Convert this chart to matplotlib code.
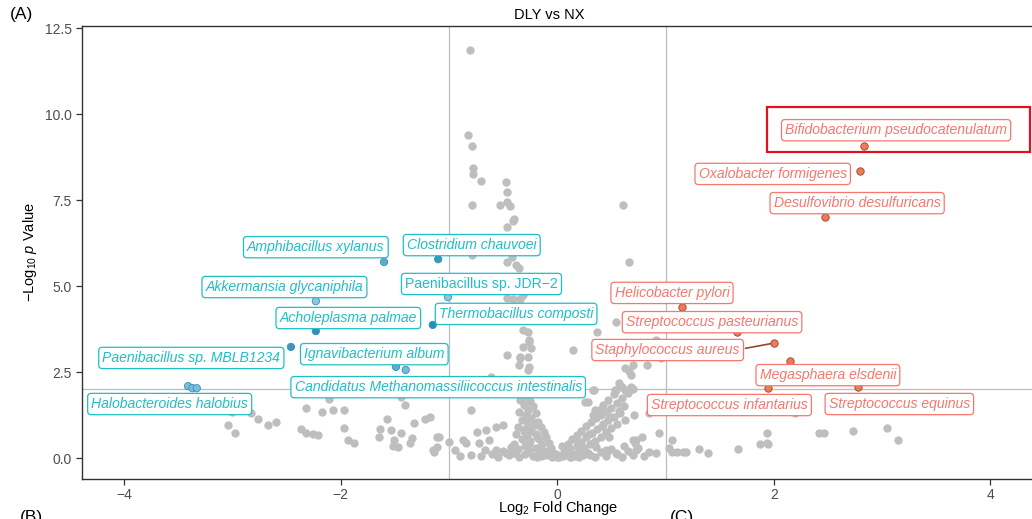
import numpy as np
import matplotlib
matplotlib.use("Agg")
import matplotlib.pyplot as plt
from matplotlib.colors import LinearSegmentedColormap
from matplotlib.patches import Rectangle

plt.rcParams["font.family"] = ["Liberation Sans", "DejaVu Sans"]
plt.rcParams["mathtext.fontset"] = "custom"
plt.rcParams["mathtext.rm"] = "Liberation Sans"
plt.rcParams["mathtext.it"] = "Liberation Sans:italic"

# ---- dados: pontos nao significativos (log2FC, -log10 p)
cinza_x = [-0.81, -0.82, -0.79, -0.78, -0.78, -0.70, -0.47, -0.46, -0.79, -0.53, -0.46, -0.44, 0.61,
           -0.40, -0.41, -0.46, -0.42, -0.79, 0.66, -0.46, -0.38, -0.35,
           -0.46, -0.41, -0.34, -0.32,
           -0.32, -0.27, -0.26, -0.32, -0.24, -0.34, -0.27, -0.35, -0.26, -0.26, -0.46, -0.34, -0.27,
           0.54, 0.37, 0.15,
           0.63, 0.70, 0.83, 0.91, 0.96, 0.66, 0.68, 0.57, 0.60, 0.70, 0.68, 0.53, 0.63,
           -0.61, 0.34, 0.26, -0.30, -0.80, 0.39, 0.63, 0.71, 0.85, 0.94, 1.06,
           0.91, 1.03, 1.11, 1.19, 1.31, 1.39, 1.67, 1.87, 1.94, 1.94, 2.42, 2.46, 2.20, 1.95,
           2.73, 3.05, 3.15, 1.06, 1.16,
           -1.44, -1.41, -1.97, -1.97, -2.32, -2.17, -2.07, -2.11, -3.04, -2.98, -2.83, -2.76,
           -2.67, -2.60, -2.37, -2.32, -2.26, -2.21, -1.93, -1.88, -1.64, -1.65, -1.57, -1.54,
           -1.51, -1.52, -1.47, -1.44, -1.34, -1.36, -1.32, -1.22, -1.18, -1.09, -1.11, -1.14,
           -1.00, -3.00,
           -1.11, -1.15, -0.87, -0.84, -0.94, -0.74, -0.66, -0.57, -0.50, -0.72, -0.63, -0.67,
           -0.57, -0.47, -0.43,
           -0.35, -0.33, -0.30, -0.28, -0.34, -0.25, -0.31, -0.22, -0.27, -0.35, -0.20, -0.30,
           -0.24, -0.33, -0.18, -0.27, -0.21, -0.36, -0.15, -0.30, -0.24, -0.12, -0.38, -0.20,
           -0.28, -0.10, -0.17, -0.33, -0.25, -0.08, -0.40, -0.14, -0.30, -0.20, -0.06, -0.36,
           -0.26, -0.12, -0.04, -0.30, -0.18, -0.08, -0.02, -0.22, 0.00,
           0.05, 0.10, 0.03, 0.15, 0.08, 0.20, 0.12, 0.25, 0.06, 0.18, 0.30, 0.10, 0.22, 0.35,
           0.14, 0.27, 0.40, 0.18, 0.32, 0.45, 0.22, 0.37, 0.50, 0.27, 0.42, 0.55, 0.31, 0.47,
           0.36, 0.52, 0.40, 0.58, 0.45, 0.35, 0.50, 0.62, 0.42, 0.55, 0.47, 0.60, 0.52, 0.65,
           -0.90, -0.80, -0.70, -0.60, -0.55, -0.50, -0.45, -0.40, -0.35, 0.20, 0.30, 0.35,
           0.40, 0.45, 0.50, 0.55, 0.60, 0.65, 0.70, 0.75, 0.80, 0.85, 0.62, 0.72, 0.78,
           0.33, 0.28, 0.33, 0.54, 0.66, 0.70, 0.73, 0.54, 0.46, 0.36, 0.45, 0.73, 0.48, 0.33,
           -0.05, 0.02, -0.15, 0.12, -0.10, 0.08, -0.01, 0.04, 0.16, -0.19, 0.24, 0.28,
           -0.29, -0.23, -0.31, -0.19, -0.26, -0.16, 0.09, 0.19, 0.29, 0.41, 0.49, 0.57,
           -0.11, -0.07, 0.01, 0.06, 0.13, 0.21]
cinza_y = [11.86, 9.38, 9.07, 8.44, 8.25, 8.05, 8.02, 7.74, 7.35, 7.35, 7.45, 7.33, 7.36,
           6.96, 6.90, 6.72, 5.85, 5.90, 5.69, 5.71, 5.61, 5.51,
           4.64, 4.61, 4.61, 4.74,
           3.72, 3.67, 3.43, 3.24, 3.19, 2.95, 2.95, 2.70, 2.65, 3.38, 2.99, 2.90, 2.56,
           3.96, 3.67, 3.14,
           2.61, 2.70, 2.70, 3.43, 2.90, 2.53, 2.41, 2.17, 2.07, 2.00, 2.07, 1.98, 1.98,
           2.36, 1.98, 1.64, 1.59, 1.40, 1.40, 1.10, 1.25, 1.30, 0.74, 0.52,
           0.14, 0.28, 0.18, 0.18, 0.25, 0.15, 0.25, 0.41, 0.43, 0.72, 0.74, 0.74, 1.30, 0.40,
           0.79, 0.86, 0.52, 0.18, 0.18,
           1.78, 1.54, 1.40, 0.86, 1.44, 1.35, 1.40, 1.71, 0.96, 0.72, 1.30, 1.12,
           0.96, 1.06, 0.83, 0.72, 0.69, 0.67, 0.52, 0.43, 0.83, 0.62, 1.12, 0.81,
           0.52, 0.35, 0.33, 0.72, 0.57, 0.43, 1.03, 1.12, 1.18, 0.60, 0.31, 0.18,
           0.47, 1.35,
           0.62, 0.23, 0.52, 0.43, 0.23, 0.77, 0.81, 0.91, 0.96, 0.43, 0.52, 0.23,
           0.23, 0.14, 0.33,
           2.20, 2.00, 1.90, 1.80, 1.70, 1.65, 1.55, 1.50, 1.40, 1.35, 1.30, 1.20,
           1.15, 1.10, 1.05, 1.00, 0.95, 0.90, 0.90, 0.85, 0.80, 0.75, 0.70, 0.70,
           0.65, 0.60, 0.55, 0.55, 0.50, 0.45, 0.40, 0.40, 0.35, 0.30, 0.30, 0.25,
           0.20, 0.20, 0.15, 0.12, 0.10, 0.08, 0.05, 0.05, 0.02,
           0.05, 0.08, 0.10, 0.12, 0.18, 0.20, 0.25, 0.28, 0.30, 0.35, 0.40, 0.42, 0.48, 0.50,
           0.55, 0.60, 0.62, 0.68, 0.72, 0.75, 0.80, 0.85, 0.88, 0.92, 0.98, 1.00, 1.05, 1.10,
           1.15, 1.20, 1.25, 1.30, 1.35, 1.40, 1.45, 1.50, 1.55, 1.60, 1.70, 1.75, 1.85, 1.90,
           0.05, 0.10, 0.05, 0.12, 0.03, 0.20, 0.08, 0.15, 0.04, 0.04, 0.10, 0.02,
           0.18, 0.07, 0.25, 0.12, 0.04, 0.20, 0.10, 0.30, 0.05, 0.18, 0.35, 0.45, 0.60,
           1.98, 1.64, 1.25, 1.98, 1.98, 0.52, 0.23, 0.14, 0.18, 0.33, 0.23, 0.52, 0.62, 0.43,
           0.02, 0.03, 0.06, 0.03, 0.15, 0.22, 0.12, 0.35, 0.05, 0.02, 0.08, 0.15,
           1.25, 1.02, 0.78, 0.62, 0.42, 0.28, 0.22, 0.48, 0.70, 0.92, 1.18, 1.38,
           0.10, 0.25, 0.06, 0.14, 0.04, 0.09]

# ---- especies reduzidas (DLY < NX)
azul_nomes = ["Amphibacillus xylanus", "Clostridium chauvoei", "Akkermansia glycaniphila",
              "Paenibacillus sp. JDR\u22122", "Acholeplasma palmae", "Thermobacillus composti",
              "Paenibacillus sp. MBLB1234", "Ignavibacterium album", None,
              "Halobacteroides halobius", None, "Candidatus Methanomassiliicoccus intestinalis"]
azul_x = [-1.60, -1.10, -2.23, -1.01, -2.23, -1.15, -2.46, -1.49, -1.40, -3.41, -3.37, -3.33]
azul_y = [5.70, 5.78, 4.56, 4.68, 3.69, 3.87, 3.23, 2.65, 2.56, 2.09, 2.03, 2.03]
azul_abund = [0.55, 0.85, 0.15, 0.15, 0.95, 1.00, 0.85, 0.55, 0.35, 0.30, 0.30, 0.30]

# ---- especies aumentadas (DLY > NX)
verm_nomes = ["Bifidobacterium pseudocatenulatum", "Oxalobacter formigenes",
              "Desulfovibrio desulfuricans", "Helicobacter pylori", "Streptococcus pasteurianus",
              "Staphylococcus aureus", "Megasphaera elsdenii", "Streptococcus infantarius",
              "Streptococcus equinus"]
verm_x = [2.83, 2.80, 2.47, 1.15, 1.66, 2.00, 2.15, 1.95, 2.78]
verm_y = [9.07, 8.34, 7.00, 4.39, 3.66, 3.34, 2.82, 2.03, 2.06]

# posicao dos rotulos (centro do texto)
pos_azul = [(-2.23, 6.13), (-0.79, 6.19), (-2.52, 4.97), (-0.70, 5.06), (-1.93, 4.07),
            (-0.38, 4.19), (-3.38, 2.91), (-1.69, 3.02), None, (-3.58, 1.57), None, (-1.10, 2.06)]
pos_verm = [(3.13, 9.53), (1.99, 8.26), (2.77, 7.41), (1.06, 4.80), (1.43, 3.95),
            (1.02, 3.14), (2.50, 2.41), (1.59, 1.54), (3.16, 1.57)]

COR_AZUL_TXT = "#1FBFC6"
COR_VERM_TXT = "#F8766D"

fig = plt.figure(figsize=(10.32, 5.19), dpi=100)
ax = fig.add_axes([82 / 1032, 1 - 479 / 519, (1039 - 82) / 1032, (479 - 26) / 519])

ax.axvline(-1, color="#bdbdbd", lw=0.9, zorder=0)
ax.axvline(1, color="#bdbdbd", lw=0.9, zorder=0)
ax.axhline(2, color="#bdbdbd", lw=0.9, zorder=0)

ax.scatter(cinza_x, cinza_y, s=36, color="#bebebe", linewidths=0, zorder=2)

cmap_azul = LinearSegmentedColormap.from_list("azul", ["#9dd3e8", "#2a8cba"])
ax.scatter(azul_x, azul_y, s=28, c=azul_abund, cmap=cmap_azul, vmin=0, vmax=1,
           edgecolors="#3a8fb5", linewidths=0.6, zorder=3)
ax.scatter(verm_x, verm_y, s=28, color="#F07A58", edgecolors="#9c5138",
           linewidths=0.7, zorder=3)

# segmento do Staphylococcus
i = verm_nomes.index("Staphylococcus aureus")
ax.plot([pos_verm[i][0] + 0.72, verm_x[i]], [pos_verm[i][1] + 0.05, verm_y[i]],
        color="#8f4a35", lw=1.2, zorder=2)

def rotulo(nome, xy, cor):
    estilo = "normal" if "JDR" in nome else "italic"
    ax.text(xy[0], xy[1], nome, color=cor, fontsize=10.1, style=estilo,
            ha="center", va="center", zorder=5,
            bbox=dict(boxstyle="round,pad=0.26,rounding_size=0.25", fc="white",
                      ec=cor, lw=0.9))

for nome, xy in zip(azul_nomes, pos_azul):
    if nome is not None:
        rotulo(nome, xy, COR_AZUL_TXT)
for nome, xy in zip(verm_nomes, pos_verm):
    rotulo(nome, xy, COR_VERM_TXT)

# destaque em vermelho
ax.add_patch(Rectangle((1.94, 8.90), 2.43, 1.30, fill=False, ec="#E0121F", lw=1.6,
                       zorder=6, clip_on=False))

ax.set_xlim(-4.39, 4.45)
ax.set_ylim(-0.61, 12.56)
ax.set_xticks([-4, -2, 0, 2, 4])
ax.set_yticks([0, 2.5, 5, 7.5, 10, 12.5])
ax.set_yticklabels(["0.0", "2.5", "5.0", "7.5", "10.0", "12.5"])
ax.tick_params(colors="#333333", labelcolor="#4d4d4d", labelsize=10, length=4, width=0.9)
ax.tick_params(axis="x", pad=2.5)
for lado in ["left", "bottom", "top"]:
    ax.spines[lado].set_color("#333333")
    ax.spines[lado].set_linewidth(1.0)
ax.spines["right"].set_visible(False)

ax.set_xlabel(r"Log$_2$ Fold Change", fontsize=10.5)
ax.xaxis.set_label_coords((558 - 82) / (1039 - 82), -(508 - 479) / (479 - 26), transform=ax.transAxes)
ax.xaxis.label.set_va("center")
ax.set_ylabel(r"$-$Log$_{10}$ $\mathit{p}$ Value", fontsize=10.5, labelpad=4)

fig.text(549 / 1032, 1 - 15 / 519, "DLY vs NX", ha="center", va="center", fontsize=10.5)
fig.text(10 / 1032, 1 - 15 / 519, "(A)", ha="left", va="center", fontsize=12.5)
fig.text(20 / 1032, 1 - 510 / 519, "(B)", ha="left", va="top", fontsize=12.5)
fig.text(670 / 1032, 1 - 510 / 519, "(C)", ha="left", va="top", fontsize=12.5)

fig.savefig("out.png", dpi=100)
